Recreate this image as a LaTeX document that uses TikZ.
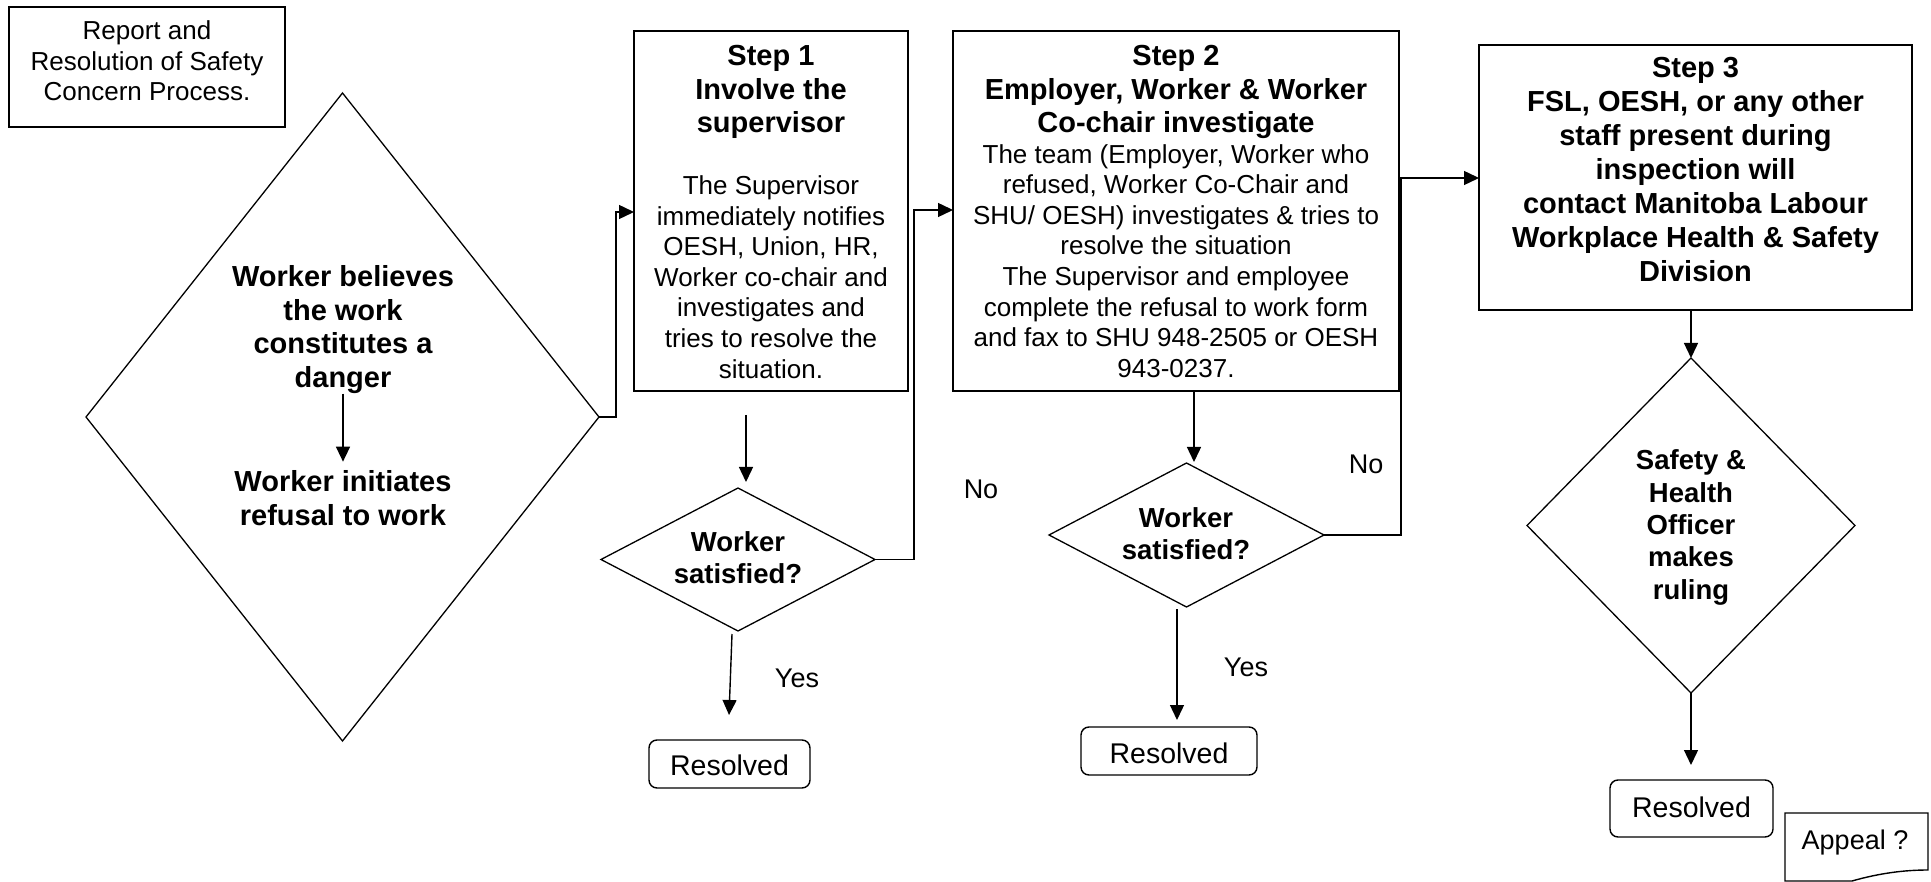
\documentclass[tikz,border=0pt]{standalone}
\usepackage{fontspec}
\setmainfont{Liberation Sans}
\usetikzlibrary{shapes.geometric,arrows.meta}
\begin{document}
\begin{tikzpicture}[x=1pt,y=-1pt,
  box/.style={draw, rectangle, line width=1.6pt, inner sep=0pt, outer sep=0pt},
  dia/.style={draw, diamond, line width=1.3pt, inner sep=0pt, outer sep=0pt},
  rbox/.style={draw, rectangle, rounded corners=8pt, line width=1.4pt, inner sep=0pt, outer sep=0pt},
  conn/.style={line width=1.4pt},
  arr/.style={line width=1.4pt, -{Triangle[length=15pt,width=14pt]}},
  bt/.style={font=\fontsize{29}{33.6}\selectfont\bfseries, align=center, inner sep=0pt},
  bts/.style={font=\fontsize{27.5}{32.3}\selectfont\bfseries, align=center, inner sep=0pt},
  rt/.style={font=\fontsize{26}{30.6}\selectfont, align=center, inner sep=0pt},
  lab/.style={font=\fontsize{27}{31}\selectfont, inner sep=0pt, anchor=base},
  rlab/.style={font=\fontsize{28.5}{33}\selectfont, inner sep=0pt, anchor=base},
]
\useasboundingbox (0,0) rectangle (1931,882);

% title
\node[box, minimum width=276pt, minimum height=120pt] (title) at (147,67) {};
\node[rt, font=\fontsize{26}{30.5}\selectfont] (titlet) at (147,61) {Report and\\Resolution of Safety\\Concern Process.};

% big diamond
\node[dia, minimum width=513pt, minimum height=648pt] (d0) at (342.5,417) {};
\node[bt] (t0a) at (343,329.5) {Worker believes\\the work\\constitutes a\\danger};
\node[bt, font=\fontsize{29}{34}\selectfont\bfseries] (t0b) at (343,498.5) {Worker initiates\\refusal to work};
\draw[arr] (t0a.south) -- ([yshift=9pt]t0b.north);

% step boxes
\node[box, minimum width=274pt, minimum height=360pt] (s1) at (771,211) {};
\node[bt] (s1h) at (771,92) {Step 1\\Involve the\\supervisor};
\node[rt] (s1b) at (771,277) {The Supervisor\\immediately notifies\\OESH, Union, HR,\\Worker co-chair and\\investigates and\\tries to resolve the\\situation.};

\node[box, minimum width=446pt, minimum height=360pt] (s2) at (1176,211) {};
\node[bt] (s2h) at (1176,92) {Step 2\\Employer, Worker \& Worker\\Co-chair investigate};
\node[rt] (s2b) at (1176,261) {The team (Employer, Worker who\\refused, Worker Co-Chair and\\SHU/ OESH) investigates \& tries to\\resolve the situation\\The Supervisor and employee\\complete the refusal to work form\\and fax to SHU 948-2505 or OESH\\943-0237.};

\node[box, minimum width=433pt, minimum height=265pt] (s3) at (1695.5,177.5) {};
\node[bt, font=\fontsize{29}{34}\selectfont\bfseries] (s3t) at (1695.5,169.5) {Step 3\\FSL, OESH, or any other\\staff present during\\inspection will\\contact Manitoba Labour\\Workplace Health \& Safety\\Division};

% decision diamonds
\node[dia, minimum width=274pt, minimum height=143pt] (d1) at (738,559.5) {};
\node[bts] (d1t) at (738,558) {Worker\\satisfied?};
\node[dia, minimum width=275pt, minimum height=144pt] (d2) at (1186.5,535) {};
\node[bts] (d2t) at (1186,533.5) {Worker\\satisfied?};
\node[dia, minimum width=328pt, minimum height=335pt] (d3) at (1691,525.5) {};
\node[bts] (d3t) at (1691,527.5) {Safety \&\\Health\\Officer\\makes\\ruling};

% resolved boxes
\node[rbox, minimum width=161pt, minimum height=48pt] (r1) at (729.5,764) {};
\node[rlab] (r1t) at (729.5,775) {Resolved};
\node[rbox, minimum width=176pt, minimum height=48pt] (r2) at (1169,751) {};
\node[rlab] (r2t) at (1169,763) {Resolved};
\node[rbox, minimum width=163pt, minimum height=57pt] (r3) at (1691.5,808.5) {};
\node[rlab] (r3t) at (1691.5,817) {Resolved};

% appeal document
\draw[line width=1.4pt] (1785,813) -- (1928,813) -- (1928,870)
  .. controls (1905,870) and (1880,873) .. (1852,881) -- (1785,881) -- cycle;
\node[lab] (appeal) at (1855,849) {Appeal ?};

% labels
\node[lab] (no1) at (981,498) {No};
\node[lab] (no2) at (1366,474) {No};
\node[lab] (yes1) at (797,687) {Yes};
\node[lab] (yes2) at (1246,676) {Yes};

% connectors
\coordinate (j1) at (616,212);
\draw[arr] (d0.east) -| (j1) -- (j1 -| s1.west);
\coordinate (j2) at (914,210);
\draw[arr] (d1.east) -| (j2) -- (j2 -| s2.west);
\coordinate (j3) at (1401,178);
\draw[arr] (d2.east) -| (j3) -- (j3 -| s3.west);

\coordinate (a1s) at (746,415);
\coordinate (a1e) at (746,482);
\draw[arr] (a1s) -- (a1e);
\coordinate (a2e) at (1194,462);
\draw[arr] (s2.south -| a2e) -- (a2e);
\draw[arr] (s3.south -| d3.north) -- (d3.north);

\coordinate (y1s) at (732,634);
\coordinate (y1e) at (729,715);
\draw[arr] (y1s) -- (y1e);
\coordinate (y2s) at (1177,609);
\coordinate (y2e) at (1177,720);
\draw[arr] (y2s) -- (y2e);
\coordinate (y3e) at (1691,765);
\draw[arr] (d3.south) -- (y3e);
\end{tikzpicture}
\end{document}
